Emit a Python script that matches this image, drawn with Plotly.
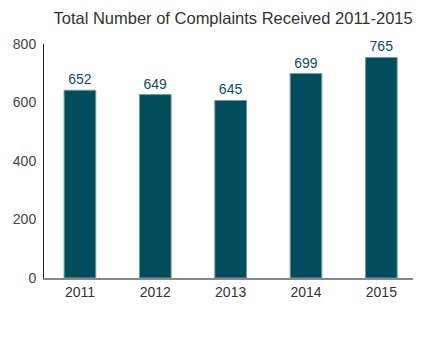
import plotly.graph_objects as go

years = ["2011", "2012", "2013", "2014", "2015"]
bar_heights = [642, 627, 607, 699, 754]
label_texts = ["652", "649", "645", "699", "765"]
y_ticks = [0, 200, 400, 600, 800]

fig = go.Figure(go.Bar(
    x=years, y=bar_heights, text=label_texts, textposition="outside",
    textfont=dict(family="Liberation Sans, Arial", size=14, color="#0d4f5e"),
    marker=dict(color="#014d5c", line=dict(color="#6f9aa3", width=1)),
    width=0.42, cliponaxis=False,
))
fig.update_layout(
    width=439, height=337,
    margin=dict(l=44, r=26, t=44, b=59),
    paper_bgcolor="white", plot_bgcolor="white",
    font=dict(family="Liberation Sans, Arial", color="#444"),
    title=dict(text="Total Number of Complaints Received 2011-2015",
               x=0.531, xanchor="center", y=0.947, yanchor="middle",
               font=dict(size=16.5, color="#333")),
    showlegend=False,
)
fig.update_xaxes(range=[-0.477, 4.42], showline=True, linecolor="#888", linewidth=2,
                 ticks="", tickfont=dict(size=14, color="#333"), showgrid=False)
fig.update_yaxes(range=[0, 800], tickvals=y_ticks, showline=True, linecolor="#222",
                 linewidth=1, showgrid=False, zeroline=False, ticks="",
                 ticklabelstandoff=4,
                 tickfont=dict(size=14, color="#444"))
fig.write_html("out.html")
